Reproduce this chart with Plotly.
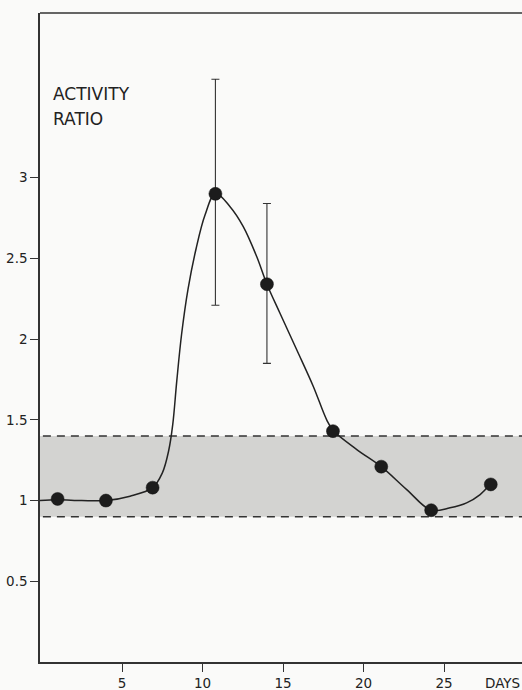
import plotly.graph_objects as go

# Measured points
days = [1, 4, 6.9, 10.8, 14, 18.1, 21.1, 24.2, 27.9]
ratio = [1.01, 1.00, 1.08, 2.90, 2.34, 1.43, 1.21, 0.94, 1.10]

# Error bars (mean +/- half range)
err_days = [10.8, 14]
err_vals = [2.91, 2.345]
err_half = [0.70, 0.495]

# Hand-drawn curve
curve_days = [-0.1, 1, 2.5, 4, 5.5, 6.9, 7.5, 7.9, 8.15, 8.4, 8.7, 9.1, 9.6,
              10.16, 10.8, 11.71, 12.53, 13.37, 14.0, 14.81, 15.85, 16.88, 17.71,
              18.1, 19.58, 21.1, 22.68, 24.2, 25.37, 26.4, 27.24, 27.9]
curve_vals = [1.0, 1.005, 1.0, 1.0, 1.027, 1.08, 1.17, 1.31, 1.47, 1.74, 2.03,
              2.31, 2.56, 2.77, 2.904, 2.82, 2.697, 2.51, 2.34, 2.16, 1.934, 1.707,
              1.50, 1.435, 1.316, 1.21, 1.068, 0.94, 0.955, 0.986, 1.037, 1.105]

# Normal range band
band_low, band_high = 0.9, 1.4

x_ticks = [5, 10, 15, 20, 25]
y_ticks = [0.5, 1, 1.5, 2, 2.5, 3]
y_ticklabels = ["0.5", "1", "1.5", "2", "2.5", "3"]

ink = "#222222"
font = "DejaVu Sans"
bg = "#fafaf9"

fig = go.Figure()

fig.add_trace(go.Scatter(
    x=curve_days, y=curve_vals, mode="lines",
    line=dict(color=ink, width=1.5, shape="spline", smoothing=1.0),
    hoverinfo="skip", showlegend=False))

fig.add_trace(go.Scatter(
    x=err_days, y=err_vals, mode="markers",
    marker=dict(size=1, color="rgba(0,0,0,0)"),
    error_y=dict(type="data", array=err_half, visible=True,
                 color="#333333", thickness=1.1, width=4),
    showlegend=False))

fig.add_trace(go.Scatter(
    x=days, y=ratio, mode="markers",
    marker=dict(size=13, color="#1c1c1c", line=dict(color="#111111", width=0.5)),
    showlegend=False))

# band and dashed limits
fig.add_shape(type="rect", xref="paper", yref="y", x0=0, x1=1,
              y0=band_low, y1=band_high, fillcolor="#d3d3d1",
              line=dict(width=0), layer="below")
for yv in (band_low, band_high):
    fig.add_shape(type="line", xref="paper", yref="y", x0=0.006, x1=1,
                  y0=yv, y1=yv, line=dict(color="#333333", width=1.6, dash="8px,6px"),
                  layer="below")

# top frame line
fig.add_shape(type="line", xref="paper", yref="paper", x0=0, x1=1, y0=1, y1=1,
              line=dict(color="#333333", width=1.4))

fig.add_annotation(xref="paper", yref="paper", x=0.022, y=0.875,
                   xanchor="left", yanchor="middle", showarrow=False,
                   text="ACTIVITY", font=dict(family=font, size=17, color=ink))
fig.add_annotation(xref="paper", yref="paper", x=0.022, y=0.836,
                   xanchor="left", yanchor="middle", showarrow=False,
                   text="RATIO", font=dict(family=font, size=17, color=ink))
fig.add_annotation(xref="paper", yref="paper", x=1, y=0, xanchor="right",
                   yanchor="top", yshift=-11, showarrow=False, text="DAYS",
                   font=dict(family=font, size=13.5, color=ink))

fig.update_layout(
    width=522, height=690,
    margin=dict(l=40, r=0, t=13, b=28),
    paper_bgcolor=bg, plot_bgcolor=bg,
    font=dict(family=font, size=13, color=ink),
    xaxis=dict(range=[-0.093, 29.84], showgrid=False, zeroline=False,
               showline=True, linecolor="#333333", linewidth=1.5,
               ticks="outside", ticklen=8, tickwidth=1.2, tickcolor="#333333",
               tickvals=x_ticks, tickfont=dict(size=13.5)),
    yaxis=dict(range=[0, 4.02], showgrid=False, zeroline=False,
               showline=True, linecolor="#333333", linewidth=1.5,
               ticks="outside", ticklen=8, tickwidth=1.2, tickcolor="#333333",
               tickvals=y_ticks, ticktext=y_ticklabels, tickfont=dict(size=13.5)),
)

fig.write_html("out.html")
